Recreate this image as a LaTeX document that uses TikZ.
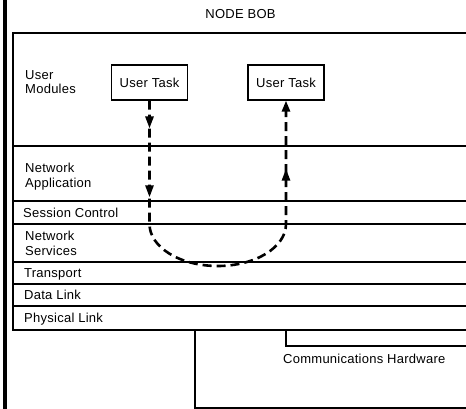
\documentclass[tikz,border=0pt]{standalone}
\usepackage{fontspec}
\setmainfont{Liberation Sans}[LetterSpace=2]
\usetikzlibrary{arrows.meta,decorations.markings}
\begin{document}
\begin{tikzpicture}[x=1pt,y=-1pt,
  every node/.style={font=\fontsize{13}{14.5}\selectfont},
  rule/.style={line width=1.1pt},
  lbl/.style={anchor=base west, inner sep=0pt, align=left},
  task/.style={draw, line width=1.2pt, minimum width=76pt, minimum height=35pt, inner sep=0pt},
  flow/.style={line width=2.6pt, dash pattern=on 9pt off 5pt,
    postaction={decorate},
    decoration={markings,
      mark=at position 0.066 with {\arrow{Triangle[width=8pt,length=12pt]}},
      mark=at position 0.229 with {\arrow{Triangle[width=8pt,length=12pt]}},
      mark=at position 0.839 with {\arrow{Triangle[width=8pt,length=12pt]}}},
    -{Triangle[width=8pt,length=11pt]}},
  bracket/.style={line width=1.4pt}
]
\useasboundingbox (0,0) rectangle (466,409);
% thick left bar
\draw[line width=4.5pt] (4.8,0) -- (4.8,409);
% title
\node[anchor=base] (title) at (240.5,18.5) {NODE BOB};
% layer frame
\draw[rule] (466,33) -- (13,33) -- (13,330) -- (466,330);
\foreach \yy in {146,201,224,262,284,306}
  \draw[rule] (13,\yy) -- (466,\yy);
% layer labels (base = baseline of last line)
\node[lbl] (um) at (25,94) {User\\Modules};
\node[lbl] (na) at (25,187) {Network\\Application};
\node[lbl] (sc) at (23,217) {Session Control};
\node[lbl] (ns) at (25,255) {Network\\Services};
\node[lbl] (tr) at (24,277) {Transport};
\node[lbl] (dl) at (24,299.5) {Data Link};
\node[lbl] (pl) at (24,322) {Physical Link};
% user tasks
\node[task] (t1) at (149.5,82.5) {User Task};
\node[task] (t2) at (286,82.5) {User Task};
% data flow
\coordinate (d1) at (149.5,224);
\coordinate (d2) at (286,224);
\draw[flow] (t1.south) -- (d1)
  arc[start angle=180, end angle=0, x radius=68.25, y radius=42] -- (t2.south);
% hardware brackets
\coordinate (h1) at (286,330);
\coordinate (h2) at (195,330);
\draw[bracket] (h1) -- (286,346) -- (466,346);
\draw[bracket] (h2) -- (195,408) -- (466,408);
\node[lbl] (ch) at (283,363) {Communications Hardware};
\end{tikzpicture}
\end{document}
